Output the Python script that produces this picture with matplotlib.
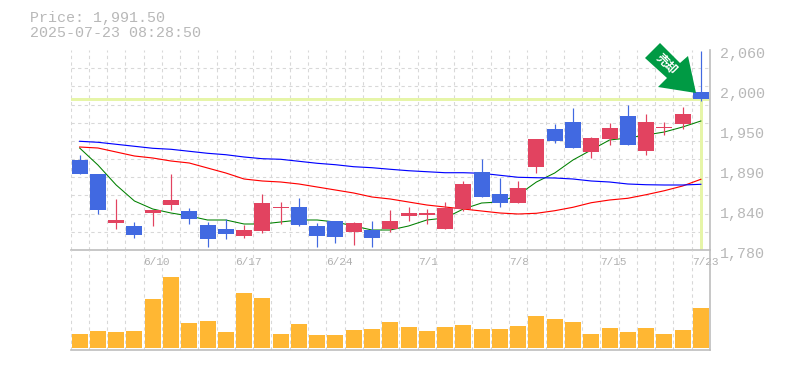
import matplotlib
matplotlib.use("Agg")
import numpy as np
import matplotlib.pyplot as plt
from matplotlib.patches import Polygon
from matplotlib.transforms import Affine2D, ScaledTranslation

# ---- data ----
open_ = [1906, 1886.4, 1817.8, 1813.6, 1831.8, 1843, 1834.6, 1815, 1809.4, 1799.6, 1806.6, 1838.8,
         1840.2, 1813.6, 1820.6, 1805.2, 1808, 1809.4, 1827.6, 1829, 1809.4, 1837.4, 1889.2, 1858.4,
         1845.8, 1896.2, 1949.4, 1959.2, 1917.2, 1935.4, 1967.6, 1918.6, 1950.8, 1956.4, 2001.2]
close = [1886.4, 1836, 1822, 1801, 1836, 1850, 1823.4, 1795.4, 1802.4, 1808, 1845.8, 1840.2,
         1815, 1799.6, 1798.2, 1817.8, 1796.8, 1820.6, 1831.8, 1831.8, 1838.8, 1872.4, 1854.2, 1845.8,
         1866.8, 1935.4, 1932.6, 1922.8, 1936.8, 1950.8, 1927, 1959.2, 1952.2, 1970.4, 1991.5]
high = [1913, 1886.4, 1851.4, 1819.2, 1836, 1886.4, 1838.8, 1819.2, 1823.4, 1815, 1858.4, 1847.2,
        1852.8, 1817.8, 1820.6, 1819.2, 1820.6, 1836, 1840.2, 1837.4, 1847.2, 1876.6, 1907.4, 1880.8,
        1876.6, 1935.4, 1956.4, 1978.8, 1938.2, 1957.8, 1983, 1970.4, 1959.2, 1980.2, 2058.6]
low = [1886.4, 1830.4, 1809.4, 1796.8, 1813.6, 1836, 1816.4, 1784.2, 1795.4, 1796.8, 1803.8, 1816.4,
       1813.6, 1784.2, 1789.8, 1787, 1784.2, 1805.2, 1820.6, 1816.4, 1809.4, 1834.6, 1854.2, 1840.2,
       1845.8, 1887.8, 1929.8, 1922.8, 1908.8, 1927, 1927, 1913, 1941, 1949.4, 1988.6]
ma_short = [1922.8, 1899, 1871, 1848.6, 1837.4, 1831.8, 1827.6, 1822, 1822, 1816.4, 1816.4, 1819.2,
            1822, 1822, 1819.2, 1813.6, 1808, 1808, 1813.6, 1822, 1824.8, 1837.4, 1845.8, 1847.2,
            1857, 1875.2, 1887.8, 1906, 1920, 1934, 1936.8, 1941, 1945.2, 1952.2, 1960.6]
ma_mid = [1924.2, 1922.8, 1917.2, 1911.6, 1908.8, 1904.6, 1901.8, 1894.8, 1887.8, 1879.4, 1876.6, 1875.2,
          1872.4, 1868.2, 1864, 1859.8, 1854.2, 1851.4, 1847.2, 1843, 1840.2, 1837.4, 1834.6, 1831.8,
          1830.4, 1831.4, 1835, 1839.8, 1846.2, 1850, 1852.4, 1857.4, 1863, 1869.6, 1879]
ma_long = [1932.2, 1930.8, 1928, 1925.2, 1922.4, 1921, 1918.2, 1915.4, 1913.4, 1910.2, 1907.8, 1907,
           1904.2, 1901.4, 1899.4, 1896.6, 1895.2, 1893, 1891, 1889.6, 1888.2, 1888.2, 1887.4, 1884.6,
           1881.8, 1881.2, 1880.8, 1879.4, 1876.6, 1875.2, 1872.4, 1871.4, 1871, 1871, 1872]
volume = [14, 17, 16, 17, 49, 71, 25, 27, 16, 55, 50, 14, 24, 13, 13, 18, 19, 26,
          21, 17, 21, 23, 19, 19, 22, 32, 29, 26, 14, 20, 16, 20, 14, 18, 40]
date_pos = [4, 9, 14, 19, 24, 29, 34]
date_labels = ["6/10", "6/17", "6/24", "7/1", "7/8", "7/15", "7/23"]
price_ticks = [2060, 2004, 1948, 1892, 1836, 1780]
price_labels = ["2,060", "2,000", "1,950", "1,890", "1,840", "1,780"]
last_price = 1991.5
title_lines = ["Price: 1,991.50", "2025-07-23 08:28:50"]
badge_text = "売却"

# ---- style ----
W, H = 785, 370
BLUE, RED = "#4169E1", "#E24360"
GRID, AXIS, TXT = "#d8d8d8", "#bdbdbd", "#b8b8b8"
LIME, VOL = "#E6F5A8", "#FFB733"
MONO = ["Liberation Mono", "DejaVu Sans Mono"]
px = 0.72

fig = plt.figure(figsize=(W / 100, H / 100), dpi=100, facecolor="white")
L, R = 70.5, 710
ax = fig.add_axes([L / W, 1 - 250 / H, (R - L) / W, 200 / H])
vx = fig.add_axes([L / W, 1 - 350 / H, (R - L) / W, 100 / H])
for a in (ax, vx):
    a.set_facecolor("none")
    a.set_xlim(-0.5, 34.5)
    a.set_axisbelow(True)
    for s in ("left", "top"):
        a.spines[s].set_visible(False)
    for s in ("right", "bottom"):
        a.spines[s].set_color(AXIS)
        a.spines[s].set_linewidth(1.2)

n = len(open_)
x = np.arange(n)
slots = x - 0.5

# price panel
ax.set_ylim(1780, 2060)
ax.set_xticks(np.array(date_pos) - 0.5)
ax.set_xticklabels(date_labels, family=MONO, fontsize=8.0, color="#b0b0b0", ha="left")
ax.set_xticks(slots, minor=True)
ax.yaxis.tick_right()
ax.set_yticks(price_ticks)
ax.set_yticklabels(price_labels, family=MONO, fontsize=10.8, color=TXT)
ax.set_yticks(np.linspace(2060, 1780, 12), minor=True)
ax.tick_params(which="both", length=0)
ax.tick_params(axis="x", pad=5)
ax.tick_params(axis="y", pad=7)
dash = dict(color=GRID, linewidth=px * 1.1, linestyle=(0, (3, 3)))
ax.grid(True, axis="x", which="both", **dash)
ax.grid(True, axis="y", which="minor", **dash)
off = ScaledTranslation(0, -2.7 / 72 * 0.72, fig.dpi_scale_trans)
for lab in ax.get_yticklabels():
    lab.set_transform(lab.get_transform() + off)

ax.axhline(last_price, color=LIME, linewidth=3 * px, zorder=1.5)
ax.vlines(x[-1], 1780, last_price, color=LIME, linewidth=3 * px, zorder=1.5)

# moving averages pass behind the candles
ax.plot(x, ma_short, color="#008000", linewidth=1.05 * px, zorder=2)
ax.plot(x, ma_mid, color="#FF0000", linewidth=1.15 * px, zorder=2.1)
ax.plot(x, ma_long, color="#0000FF", linewidth=1.15 * px, zorder=2.2)

colors = [RED if c >= o else BLUE for o, c in zip(open_, close)]
ax.vlines(x, low, high, colors=colors, linewidth=1.2 * px, zorder=3)
ax.bar(x, np.abs(np.subtract(close, open_)), bottom=np.minimum(open_, close),
       width=16 / 18.27, color=colors, linewidth=0, zorder=3)

# volume panel
vx.set_ylim(-2, 98)
vx.set_xticks(slots)
vx.set_yticks([])
vx.tick_params(which="both", length=0, labelbottom=False)
vx.grid(True, axis="x", **dash)
vx.bar(x, volume, width=16 / 18.27, color=VOL, linewidth=0, zorder=3)

# header text
to_px = Affine2D().scale(1, -1).translate(0, H)
fig.text(30, 18, title_lines[0], transform=to_px, family=MONO, fontsize=10.8,
         color=TXT, va="center", ha="left")
fig.text(30, 33, title_lines[1], transform=to_px, family=MONO, fontsize=10.8,
         color=TXT, va="center", ha="left")

# badge arrow
arrow = [(660, 43), (680, 63), (688, 56), (696, 93), (658, 87), (667, 78), (645, 58)]
fig.add_artist(Polygon(arrow, closed=True, transform=to_px, facecolor="#009A44",
                       edgecolor="none", zorder=5))
fig.text(666.7, 63.7, badge_text, transform=to_px, family=["Noto Sans CJK JP", "DejaVu Sans"],
         fontsize=8.6, fontweight="bold", color="white", rotation=-45,
         rotation_mode="anchor", ha="center", va="center", zorder=6)

fig.savefig("out.png", dpi=100, facecolor="white")
